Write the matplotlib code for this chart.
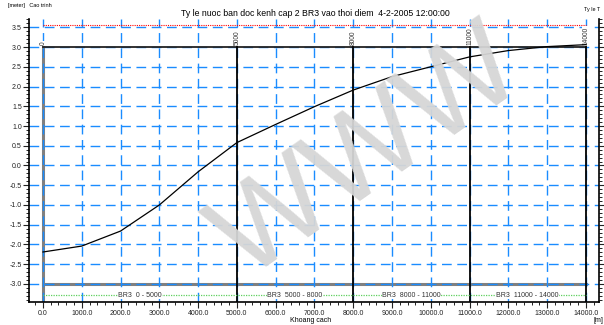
import numpy as np
import matplotlib.pyplot as plt
from matplotlib.ticker import MultipleLocator, FormatStrFormatter

plt.rcParams['font.family'] = ['Liberation Sans', 'DejaVu Sans']

# chainage [m] and water surface level [meter]
khoang_cach = [0, 1000, 2000, 3000, 4000, 5000, 6000, 7000,
               8000, 9000, 10000, 11000, 12000, 13000, 14000]
cao_trinh = [-2.19, -2.04, -1.66, -1.00, -0.16, 0.58, 1.04, 1.49,
             1.91, 2.25, 2.50, 2.75, 2.91, 3.01, 3.06]

# branch boundaries and names
moc = [0, 5000, 8000, 11000, 14000]
nhanh = ['BR3  0 - 5000', 'BR3  5000 - 8000', 'BR3  8000 - 11000', 'BR3  11000 - 14000']

day_kenh = 3.0      # black horizontal line level
muc_tren = 3.557    # red dotted line
muc_duoi = -3.0     # grey bottom line
muc_nhanh = -3.28   # green branch line

fig = plt.figure(figsize=(6.04, 3.25), dpi=100)
ax = fig.add_axes([0.0488, 0.0708, 0.9429, 0.8707])
ax.set_xlim(-348, 14337)
ax.set_ylim(-3.456, 3.709)

blue = '#1a8cff'
for yv in np.arange(-3.0, 3.51, 0.5):
    ax.axhline(yv, color=blue, lw=1.0, ls=(0, (7, 4)), zorder=1)
for xv in range(0, 14001, 1000):
    ax.axvline(xv, color=blue, lw=1.0, ls=(0, (7, 4)), zorder=1)

# grey lines on left boundary and bottom level
ax.plot([0, 14000], [muc_duoi, muc_duoi], color='#808080', lw=2.2, zorder=0.8)
ax.plot([0, 0], [-3.456, day_kenh], color='#808080', lw=2.2, zorder=0.8)

# black structure lines
ax.plot([0, 14000], [day_kenh, day_kenh], color='#222222', lw=1.3, zorder=2)
for m in moc[1:]:
    ax.plot([m, m], [-3.456, day_kenh], color='black', lw=1.3, zorder=2)
for m in moc:
    ax.text(m, day_kenh + 0.06, str(m), rotation=90, ha='center', va='bottom',
            fontsize=4.8, color='#333333', zorder=4,
            bbox=dict(facecolor='white', edgecolor='none', pad=0.3))

ax.plot([0, 14000], [muc_tren, muc_tren], color='red', lw=0.8, ls=(0, (1, 1)), zorder=2)

# branch line with names
ax.plot([0, 14000], [muc_nhanh, muc_nhanh], color='#5fd05f', lw=0.9, ls=(0, (1, 1)), zorder=2)
for a, b, name in zip(moc[:-1], moc[1:], nhanh):
    ax.text((a + b) / 2, muc_nhanh, name, ha='center', va='center', fontsize=5,
            color='#333333', zorder=4,
            bbox=dict(facecolor='white', edgecolor='none', pad=0.2))

# watermark
fig.text(0.61, 0.52, 'WWW', fontsize=88, color='#d6d6d6',
         rotation=35, ha='center', va='center', zorder=3, alpha=0.95)

ax.plot(khoang_cach, cao_trinh, color='black', lw=0.9, zorder=5)

ax.spines['top'].set_visible(False)
for s in ['left', 'bottom', 'right']:
    ax.spines[s].set_linewidth(1.2)

ax.xaxis.set_major_locator(MultipleLocator(1000))
ax.xaxis.set_minor_locator(MultipleLocator(200))
ax.yaxis.set_major_locator(MultipleLocator(0.5))
ax.yaxis.set_minor_locator(MultipleLocator(0.1))
ax.xaxis.set_major_formatter(FormatStrFormatter('%.1f'))
ax.yaxis.set_major_formatter(FormatStrFormatter('%.1f'))
ax.tick_params(which='major', length=4, width=0.8, labelsize=5, pad=1.5, colors='#222222')
ax.tick_params(which='minor', length=2.5, width=0.6)
ax.tick_params(axis='y', which='both', right=True, labelright=False)

fig.text(315 / 604, 1 - 14 / 325, 'Ty le nuoc ban doc kenh cap 2 BR3 vao thoi diem  4-2-2005 12:00:00',
         ha='center', va='center', fontsize=6.3)
fig.text(8 / 604, 1 - 5 / 325, '[meter]   Cao trinh', ha='left', va='center', fontsize=4)
fig.text(584 / 604, 1 - 10 / 325, 'Ty le T', ha='left', va='center', fontsize=4)
fig.text(311 / 604, 1 - 320.5 / 325, 'Khoang cach', ha='center', va='center', fontsize=5)
fig.text(593 / 604, 1 - 320.5 / 325, '[m]', ha='left', va='center', fontsize=5)

fig.savefig('out.png', dpi=100)
